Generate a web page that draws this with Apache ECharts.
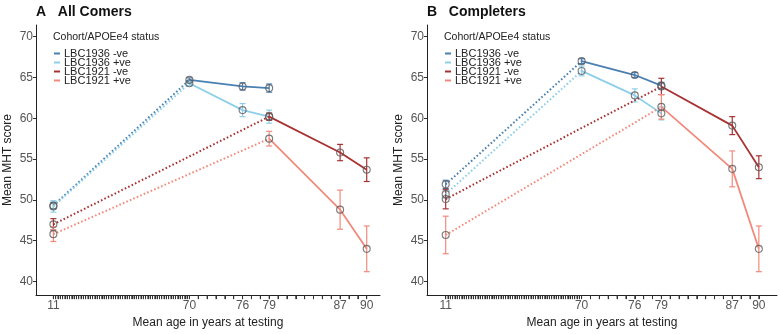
<!DOCTYPE html>
<html>
<head>
<meta charset="utf-8">
<script src="https://cdn.jsdelivr.net/npm/echarts@6/dist/echarts.min.js"></script>
<style>
  html, body { margin: 0; padding: 0; background: #fff; }
  #chart { width: 780px; height: 334px; }
</style>
</head>
<body>
<div id="chart"></div>
<script>
// group names and the ages each cohort was tested at
const groupNames = ['LBC1936 -ve', 'LBC1936 +ve', 'LBC1921 -ve', 'LBC1921 +ve'];
const groupColors = ['#4a7fb2', '#8dcfea', '#a83232', '#f28a7c'];
const ages1936 = [11, 70, 76, 79];
const ages1921 = [11, 79, 87, 90];
const groupAges = [ages1936, ages1936, ages1921, ages1921];

// panel A: all comers (means and error half-widths)
const allMean1936neg = [49.3, 64.7, 63.9, 63.7];
const allErr1936neg = [0.4, 0.25, 0.45, 0.5];
const allMean1936pos = [49.2, 64.3, 61.0, 60.2];
const allErr1936pos = [0.7, 0.3, 0.8, 0.8];
const allMean1921neg = [47.0, 60.2, 55.8, 53.7];
const allErr1921neg = [0.7, 0.45, 1.0, 1.45];
const allMean1921pos = [45.8, 57.5, 48.8, 44.0];
const allErr1921pos = [0.9, 0.9, 2.4, 2.8];

// panel B: completers
const compMean1936neg = [51.9, 67.0, 65.3, 64.0];
const compErr1936neg = [0.5, 0.3, 0.3, 0.4];
const compMean1936pos = [50.7, 65.8, 62.8, 60.6];
const compErr1936pos = [0.5, 0.6, 0.8, 0.8];
const compMean1921neg = [50.1, 63.9, 59.1, 54.0];
const compErr1921neg = [1.2, 1.0, 1.1, 1.4];
const compMean1921pos = [45.7, 61.4, 53.8, 44.0];
const compErr1921pos = [2.3, 1.5, 2.2, 2.8];

const labelYears = [11, 70, 76, 79, 87, 90];
const yTicks = [40, 45, 50, 55, 60, 65, 70];

const panels = [
  {
    title: 'A   All Comers',
    means: [allMean1936neg, allMean1936pos, allMean1921neg, allMean1921pos],
    errs: [allErr1936neg, allErr1936pos, allErr1921neg, allErr1921pos]
  },
  {
    title: 'B   Completers',
    means: [compMean1936neg, compMean1936pos, compMean1921neg, compMean1921pos],
    errs: [compErr1936neg, compErr1936pos, compErr1921neg, compErr1921pos]
  }
];

// the age axis is squeezed before 70 (childhood test far from the later waves)
const BREAK = 70;
const SQUEEZE = 0.26;
function toAxis(age) {
  return age >= BREAK ? age : BREAK - (BREAK - age) * SQUEEZE;
}
function fromAxis(v) {
  return v >= BREAK ? v : BREAK - (BREAK - v) / SQUEEZE;
}

// one small tick for every year from 11 to 90
const tickYears = [];
for (let y = 11; y <= 90; y++) tickYears.push(y);

const FONT = 'Liberation Sans, Arial, sans-serif';
const Y_MIN = 38.33;
const Y_MAX = 71.43;
const grids = [
  { left: 36, top: 25, width: 344, height: 277 },
  { left: 427, top: 25, width: 350, height: 277 }
];
const xRanges = [[52.7, 91.5], [52.55, 92.05]];

const chart = echarts.init(document.getElementById('chart'));

const series = [];
panels.forEach((panel, p) => {
  groupNames.forEach((name, g) => {
    const ages = groupAges[g];
    const mean = panel.means[g];
    const err = panel.errs[g];
    const pts = ages.map((a, i) => [toAxis(a), mean[i]]);
    const color = groupColors[g];

    series.push({
      name: name,
      type: 'line',
      xAxisIndex: p,
      yAxisIndex: p,
      data: pts.slice(1),
      symbol: 'none',
      color: color,
      lineStyle: { color: color, width: 1.8 },
      itemStyle: { color: color },
      z: 3,
      silent: true
    });
    series.push({
      name: name + ' dotted',
      type: 'line',
      xAxisIndex: p,
      yAxisIndex: p,
      data: pts.slice(0, 2),
      symbol: 'none',
      lineStyle: { color: color, width: 2, type: [1.6, 2.2] },
      z: 3,
      silent: true
    });
    series.push({
      name: name + ' err',
      type: 'custom',
      xAxisIndex: p,
      yAxisIndex: p,
      data: ages.map((a, i) => [toAxis(a), mean[i], err[i]]),
      encode: { x: 0, y: 1 },
      renderItem: (params, api) => {
        const x = api.value(0);
        const m = api.value(1);
        const e = api.value(2);
        const hi = api.coord([x, m + e]);
        const lo = api.coord([x, m - e]);
        const st = { stroke: color, lineWidth: 1.2 };
        return {
          type: 'group',
          children: [
            { type: 'line', shape: { x1: hi[0], y1: hi[1], x2: lo[0], y2: lo[1] }, style: st },
            { type: 'line', shape: { x1: hi[0] - 3, y1: hi[1], x2: hi[0] + 3, y2: hi[1] }, style: st },
            { type: 'line', shape: { x1: lo[0] - 3, y1: lo[1], x2: lo[0] + 3, y2: lo[1] }, style: st }
          ]
        };
      },
      z: 2,
      silent: true
    });
    series.push({
      name: name + ' points',
      type: 'scatter',
      xAxisIndex: p,
      yAxisIndex: p,
      data: pts,
      symbol: 'circle',
      symbolSize: 7,
      itemStyle: { color: 'rgba(0,0,0,0)', borderColor: '#5a5a5a', borderWidth: 1.1 },
      z: 4,
      silent: true
    });
  });
});

const legendTitles = grids.map((grid, p) => ({
  id: 'legend-title-' + p,
  type: 'text',
  left: grid.left + 17,
  top: 32,
  style: { text: 'Cohort/APOEe4 status', fontSize: 10.5, fill: '#222', fontFamily: FONT }
}));

const option = {
  animation: false,
  textStyle: { fontFamily: FONT },
  title: panels.map((panel, p) => ({
    text: panel.title,
    left: grids[p].left,
    top: 5,
    padding: 0,
    textStyle: { fontSize: 14, fontWeight: 'bold', color: '#111', fontFamily: FONT }
  })),
  legend: panels.map((panel, p) => ({
    data: groupNames,
    orient: 'vertical',
    left: grids[p].left + 18,
    top: 48,
    padding: 0,
    itemGap: -2,
    itemWidth: 6,
    itemHeight: 2,
    icon: 'rect',
    selectedMode: false,
    textStyle: { fontSize: 11, color: '#222', fontFamily: FONT, padding: [0, 0, 0, -1] }
  })),
  graphic: legendTitles,
  grid: grids,
  xAxis: grids.map((grid, p) => ({
    type: 'value',
    gridIndex: p,
    min: xRanges[p][0],
    max: xRanges[p][1],
    name: 'Mean age in years at testing',
    nameLocation: 'middle',
    nameGap: 21,
    nameTextStyle: { fontSize: 12, color: '#222', fontFamily: FONT },
    axisLine: { show: true, onZero: false, lineStyle: { color: '#222', width: 1 } },
    axisTick: {
      show: true,
      length: 4,
      customValues: tickYears.map(toAxis),
      lineStyle: { color: '#333', width: 1 }
    },
    axisLabel: {
      customValues: labelYears.map(toAxis),
      formatter: (v) => String(Math.round(fromAxis(v))),
      fontSize: 12,
      color: '#555',
      margin: 5
    },
    splitLine: { show: false }
  })),
  yAxis: grids.map((grid, p) => ({
    type: 'value',
    gridIndex: p,
    min: Y_MIN,
    max: Y_MAX,
    name: 'Mean MHT score',
    nameLocation: 'middle',
    nameGap: 22,
    nameTextStyle: { fontSize: 12, color: '#222', fontFamily: FONT },
    axisLine: { show: true, lineStyle: { color: '#222', width: 1 } },
    axisTick: { show: true, length: 3, customValues: yTicks, lineStyle: { color: '#333' } },
    axisLabel: { customValues: yTicks, fontSize: 12, color: '#555', margin: 3 },
    splitLine: { show: false }
  })),
  series: series
};

chart.setOption(option);

// extra year ticks below each x axis, placed through the axis scale
const tickElements = [];
grids.forEach((grid, p) => {
  tickYears.forEach((year) => {
    const pt = chart.convertToPixel({ xAxisIndex: p, yAxisIndex: p }, [toAxis(year), Y_MIN]);
    if (!pt || isNaN(pt[0])) return;
    tickElements.push({
      id: 'tick-' + p + '-' + year,
      type: 'line',
      silent: true,
      z: 10,
      shape: { x1: pt[0], y1: pt[1], x2: pt[0], y2: pt[1] + 4 },
      style: { stroke: '#333', lineWidth: 1 }
    });
  });
});
chart.setOption({ graphic: legendTitles.concat(tickElements) });
</script>
</body>
</html>
